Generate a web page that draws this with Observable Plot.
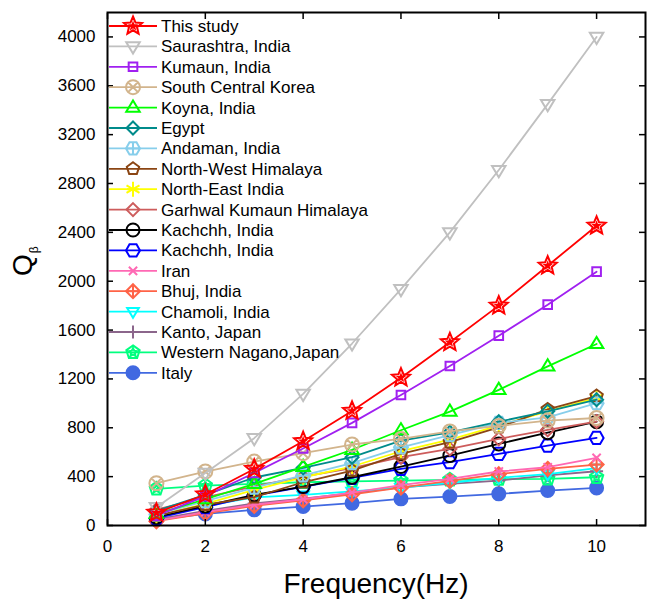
<!DOCTYPE html>
<html><head><meta charset="utf-8">
<script src="https://cdn.jsdelivr.net/npm/d3@7"></script>
<script src="https://cdn.jsdelivr.net/npm/@observablehq/plot@0.6"></script>
<style>body{margin:0;background:#fff}</style>
</head><body><div id="chart"></div>
<script>
// ---------- data ----------
const frequency = [1, 2, 3, 4, 5, 6, 7, 8, 9, 10];
const xTicks = [0, 2, 4, 6, 8, 10];
const yTicks = [0, 400, 800, 1200, 1600, 2000, 2400, 2800, 3200, 3600, 4000];

const seriesNames = [
  "This study", "Saurashtra, India", "Kumaun, India", "South Central Korea",
  "Koyna, India", "Egypt", "Andaman, India", "North-West Himalaya",
  "North-East India", "Garhwal Kumaun Himalaya", "Kachchh, India", "Kachchh, India",
  "Iran", "Bhuj, India", "Chamoli, India", "Kanto, Japan",
  "Western Nagano,Japan", "Italy"
];

const thisStudy      = [104, 254, 463, 690, 938, 1210, 1500, 1800, 2127, 2454];
const saurashtra     = [150, 430, 715, 1078, 1490, 1935, 2400, 2910, 3450, 4000];
const kumaun         = [80, 240, 430, 630, 840, 1068, 1306, 1554, 1808, 2078];
const southKorea     = [346, 442, 523, 592, 663, 709, 770, 815, 859, 880];
const koyna          = [95, 215, 340, 480, 620, 780, 932, 1110, 1303, 1486];
const egypt          = [120, 250, 393, 472, 559, 695, 763, 850, 935, 1030];
const andaman        = [90, 200, 310, 410, 510, 640, 740, 840, 886, 1001];
const nwHimalaya     = [80, 170, 232, 354, 450, 586, 682, 804, 950, 1060];
const neIndia        = [80, 177, 292, 395, 483, 608, 703, 818, 935, 1045];
const garhwal        = [130, 230, 320, 400, 470, 559, 627, 709, 783, 851];
const kachchhBlack   = [70, 160, 250, 319, 395, 483, 573, 668, 760, 850];
const kachchhBlue    = [60, 150, 245, 317, 390, 464, 518, 586, 654, 717];
const iran           = [40, 110, 170, 215, 270, 330, 382, 442, 477, 554];
const bhuj           = [35, 100, 160, 205, 255, 310, 365, 420, 464, 499];
const chamoli        = [70, 160, 230, 250, 280, 310, 350, 390, 420, 470];
const kanto          = [50, 120, 180, 220, 265, 313, 341, 368, 410, 444];
const westernNagano  = [300, 327, 340, 354, 362, 368, 374, 380, 382, 395];
const italy          = [49, 95, 128, 155, 183, 218, 237, 259, 286, 308];

const seriesValues = [thisStudy, saurashtra, kumaun, southKorea, koyna, egypt, andaman,
  nwHimalaya, neIndia, garhwal, kachchhBlack, kachchhBlue, iran, bhuj, chamoli, kanto,
  westernNagano, italy];

// ---------- styles ----------
const seriesColors = ["#ff0000", "#c0c0c0", "#a020f0", "#d2b48c", "#00ff00", "#008b8b",
  "#87ceeb", "#8b4513", "#ffff00", "#cd5c5c", "#000000", "#0000ff", "#ff69b4", "#ff6347",
  "#00ffff", "#8b668b", "#00ff7f", "#4169e1"];

const TAU = Math.PI * 2;
const rOf = s => Math.sqrt(s / Math.PI);
function poly(c, n, R, rot) {
  for (let i = 0; i < n; i++) {
    const a = rot + i * TAU / n, x = R * Math.sin(a), y = -R * Math.cos(a);
    i ? c.lineTo(x, y) : c.moveTo(x, y);
  }
  c.closePath();
}
function star(c, R, ri) {
  for (let i = 0; i < 10; i++) {
    const a = i * Math.PI / 5, rr = i % 2 ? ri : R, x = rr * Math.sin(a), y = -rr * Math.cos(a);
    i ? c.lineTo(x, y) : c.moveTo(x, y);
  }
  c.closePath();
}
function circ(c, r) { c.moveTo(r, 0); c.arc(0, 0, r, 0, TAU); }
function seg(c, x1, y1, x2, y2) { c.moveTo(x1, y1); c.lineTo(x2, y2); }
const symbols = {
  star: {draw(c, s) { const r = rOf(s); star(c, r, r * 0.45); star(c, r * 0.28, r * 0.12); }},
  triDown: {draw(c, s) { const r = rOf(s); c.moveTo(-r * 0.9, -r * 0.55); c.lineTo(r * 0.9, -r * 0.55); c.lineTo(0, r * 0.95); c.closePath(); }},
  triUp: {draw(c, s) { const r = rOf(s); c.moveTo(-r * 0.9, r * 0.55); c.lineTo(r * 0.9, r * 0.55); c.lineTo(0, -r * 0.95); c.closePath(); }},
  square: {draw(c, s) { const r = rOf(s) * 0.72; c.rect(-r, -r, 2 * r, 2 * r); }},
  circleX: {draw(c, s) { const r = rOf(s); circ(c, r); const k = r * 0.7; seg(c, -k, -k, k, k); seg(c, -k, k, k, -k); }},
  diamond: {draw(c, s) { poly(c, 4, rOf(s), 0); }},
  circlePlus: {draw(c, s) { const r = rOf(s); poly(c, 6, r, Math.PI / 6); seg(c, -r, 0, r, 0); seg(c, 0, -r, 0, r); }},
  pentagon: {draw(c, s) { poly(c, 5, rOf(s), 0); }},
  asterisk: {draw(c, s) { const r = rOf(s); seg(c, 0, -r, 0, r); for (const a of [Math.PI / 3, -Math.PI / 3]) seg(c, -r * Math.sin(a), r * Math.cos(a), r * Math.sin(a), -r * Math.cos(a)); seg(c, -r * 0.8, 0, r * 0.8, 0); }},
  circle: {draw(c, s) { circ(c, rOf(s)); }},
  hexagon: {draw(c, s) { poly(c, 6, rOf(s), Math.PI / 6); }},
  xMark: {draw(c, s) { const k = rOf(s) * 0.75; seg(c, -k, -k, k, k); seg(c, -k, k, k, -k); }},
  diamondPlus: {draw(c, s) { const r = rOf(s); poly(c, 4, r, 0); seg(c, -r, 0, r, 0); seg(c, 0, -r, 0, r); }},
  plus: {draw(c, s) { const r = rOf(s); seg(c, -r, 0, r, 0); seg(c, 0, -r, 0, r); }},
  pentaStar: {draw(c, s) { const r = rOf(s); poly(c, 5, r, 0); star(c, r * 0.6, r * 0.3); }},
  dot: {draw(c, s) { circ(c, rOf(s)); }}
};
const seriesSymbols = ["star", "triDown", "square", "circleX", "triUp", "diamond", "circlePlus",
  "pentagon", "asterisk", "diamond", "circle", "hexagon", "xMark", "diamondPlus", "triDown",
  "plus", "pentaStar", "dot"];
const seriesRadius = [9.5, 7.5, 6, 7, 7.5, 6.5, 7, 6.5, 7.5, 6.5, 6.5, 7, 5.5, 7, 6.5, 6.5, 7, 6.5];
const seriesFilled = seriesSymbols.map(s => s === "dot");

// ---------- table ----------
const rows = [];
seriesValues.forEach((vals, i) => vals.forEach((q, j) => rows.push({series: i, f: frequency[j], q})));

const seriesMarks = [];
for (let i = seriesNames.length - 1; i >= 0; i--) {
  const data = rows.filter(d => d.series === i);
  seriesMarks.push(Plot.line(data, {x: "f", y: "q", stroke: seriesColors[i], strokeWidth: 1.8}));
  seriesMarks.push(Plot.dot(data, {
    x: "f", y: "q", symbol: symbols[seriesSymbols[i]], r: seriesRadius[i],
    stroke: seriesColors[i], strokeWidth: 2,
    fill: seriesFilled[i] ? seriesColors[i] : "none"
  }));
}

const fmt = d => String(d);
const svg = Plot.plot({
  width: 647, height: 601,
  marginLeft: 107, marginRight: 2, marginTop: 12, marginBottom: 76,
  x: {domain: [0, 11]},
  y: {domain: [0, 4200]},
  style: {fontFamily: "'Liberation Sans', Arial, sans-serif", fontSize: "17px", color: "#000", background: "#fff"},
  marks: [
    ...seriesMarks,
    Plot.axisX(xTicks, {anchor: "bottom", tickSize: -6, tickPadding: 20, tickFormat: fmt, label: null, strokeWidth: 1.5}),
    Plot.axisX(xTicks, {anchor: "top", tickSize: -6, fill: "none", label: null, strokeWidth: 1.5}),
    Plot.axisY(yTicks, {anchor: "left", tickSize: -6, tickPadding: 18, tickFormat: fmt, label: null, strokeWidth: 1.5}),
    Plot.axisY(yTicks, {anchor: "right", tickSize: -7, fill: "none", label: null, strokeWidth: 1.5}),
    Plot.frame({stroke: "#000", strokeWidth: 2})
  ]
});

// ---------- axis titles & legend ----------
const root = d3.select(svg);
root.append("text").attr("x", 376).attr("y", 593).attr("text-anchor", "middle")
  .attr("font-size", 28).attr("fill", "#000").text("Frequency(Hz)");
const ql = root.append("text").attr("transform", "translate(32,276) rotate(-90)")
  .attr("text-anchor", "start").attr("font-size", 28).attr("fill", "#000");
ql.append("tspan").text("Q");
ql.append("tspan").attr("font-size", 12).attr("dy", 6).attr("dx", 1).text("β");

const legend = root.append("g").attr("text-anchor", "start");
seriesNames.forEach((name, i) => {
  const y = 26 + i * 20.4;
  const g = legend.append("g");
  g.append("line").attr("x1", 109).attr("x2", 157).attr("y1", y).attr("y2", y)
    .attr("stroke", seriesColors[i]).attr("stroke-width", 1.8);
  g.append("path")
    .attr("d", d3.symbol(symbols[seriesSymbols[i]], seriesRadius[i] * seriesRadius[i] * Math.PI)())
    .attr("transform", `translate(133,${y})`)
    .attr("fill", seriesFilled[i] ? seriesColors[i] : "none")
    .attr("stroke", seriesColors[i]).attr("stroke-width", 2);
  g.append("text").attr("x", 161).attr("y", y).attr("dy", "0.35em")
    .attr("text-anchor", "start").attr("font-size", 17).attr("fill", "#000").text(name);
});

document.getElementById("chart").appendChild(svg);
</script>
</body></html>
